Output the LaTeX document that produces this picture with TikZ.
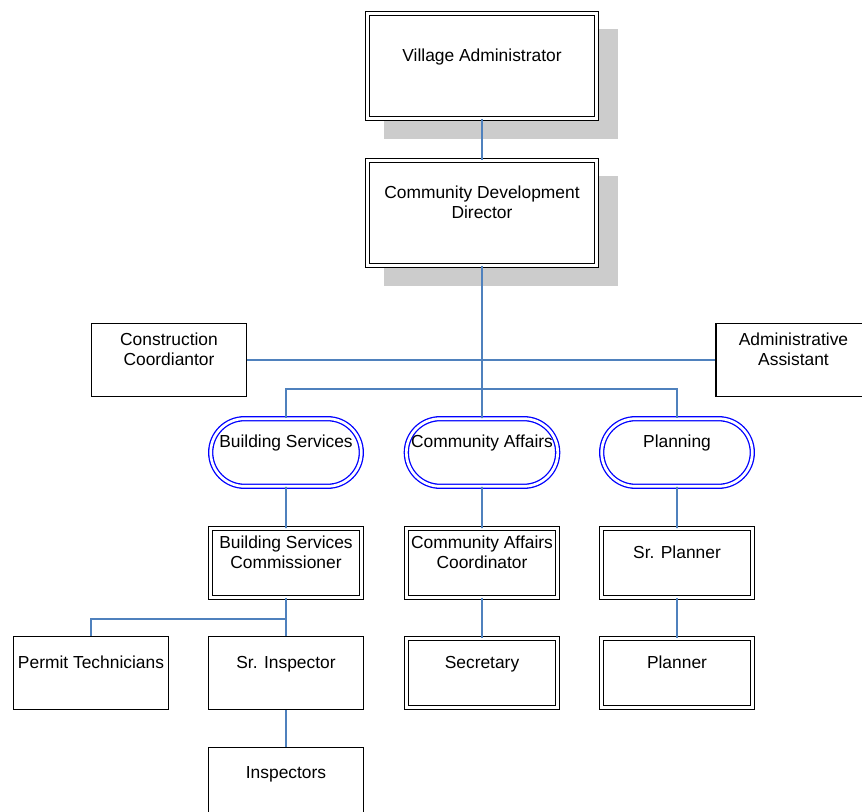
\documentclass[tikz,border=0pt]{standalone}
\usepackage{fontspec}
\setmainfont{Liberation Sans}
\usetikzlibrary{shapes.misc,shadows}
\definecolor{linkblue}{RGB}{79,129,189}
\definecolor{shadegray}{RGB}{204,204,204}
\newcommand\orgtext[1]{#1\\[-2pt]\strut}

\begin{document}
\begin{tikzpicture}[x=0.5pt,y=-0.5pt,
                    every node/.style={font=\fontsize{8.7}{10}\selectfont,align=center,inner sep=0pt},
                    unit/.style={draw,fill=white,line width=0.65pt,minimum width=77.5pt,minimum height=36.5pt},
                    twin/.style={draw,fill=white,double,line width=0.65pt,double distance=1.35pt,
                                 minimum width=75.3pt,minimum height=34.3pt},
                    head/.style={twin,minimum width=114.8pt,minimum height=52.3pt,
                                 general shadow={fill=shadegray,draw=shadegray,line width=2.65pt,
                                                 shadow xshift=9.5pt,shadow yshift=-9pt}},
                    dept/.style={rounded rectangle,draw=blue,fill=white,double,line width=0.65pt,double distance=1.35pt,
                                 minimum width=75.3pt,minimum height=33.8pt},
                    link/.style={draw=linkblue,line width=0.8pt}]
                          \useasboundingbox (0,0) rectangle (862,812);

                          \node[head] (va)  at (482,66)  {\orgtext{Village Administrator}};
                          \node[head] (cdd) at (482,213) {\orgtext{Community Development\\Director}};

                          \node[unit] (cc) at (169,360)   {\orgtext{Construction\\Coordiantor}};
                          \node[unit] (aa) at (793.5,360) {\orgtext{Administrative\\Assistant}};

                          \node[dept] (bs) at (286,452.5) {\orgtext{Building Services}};
                          \node[dept] (ca) at (482,452.5) {\orgtext{Community Affairs}};
                          \node[dept] (pl) at (677,452.5) {\orgtext{Planning}};

                          \node[twin] (bsc) at (286,563) {\orgtext{Building Services\\Commissioner}};
                          \node[twin] (cac) at (482,563) {\orgtext{Community Affairs\\Coordinator}};
                          \node[twin] (sp)  at (677,563) {\orgtext{Sr. Planner}};

                          \node[unit] (pt)  at (91,673)  {\orgtext{Permit Technicians}};
                          \node[unit] (si)  at (286,673) {\orgtext{Sr. Inspector}};
                          \node[twin] (sec) at (482,673) {\orgtext{Secretary}};
                          \node[twin] (pln) at (677,673) {\orgtext{Planner}};

                          \node[unit] (insp) at (286,784) {\orgtext{Inspectors}};

                          \coordinate (bus)   at (482,389);
                          \coordinate (bsbus) at (286,619);

                          \draw[link] (va) -- (cdd);
                          \draw[link] (cc) -- (aa);
                          \draw[link] (cdd) -- (bus);
                          \draw[link] (bus) -- (ca);
                          \draw[link] (bs.north) |- (bus) -| (pl.north);
                          \draw[link] (bs) -- (bsc);
                          \draw[link] (ca) -- (cac);
                          \draw[link] (pl) -- (sp);
                          \draw[link] (bsc) -- (si);
                          \draw[link] (pt.north) |- (bsbus);
                          \draw[link] (cac) -- (sec);
                          \draw[link] (sp) -- (pln);
                          \draw[link] (si) -- (insp);
\end{tikzpicture}
\end{document}
